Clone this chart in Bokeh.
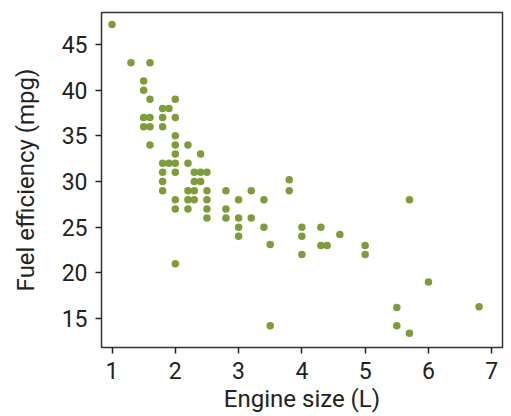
from bokeh.plotting import figure
from bokeh.models import Range1d, SingleIntervalTicker
from bokeh.embed import file_html
from bokeh.resources import INLINE

engine = [1.0, 1.3, 1.6, 1.5, 1.5, 1.6, 2.0, 1.8, 1.9, 1.5, 1.6, 1.8, 2.0, 1.5, 1.6, 1.8,
          2.0, 1.6, 2.0, 2.2, 2.0, 2.4, 1.8, 1.9, 2.0, 2.2, 1.8, 2.0, 2.3, 2.4, 2.5, 2.3,
          2.4, 1.8, 1.8, 2.2, 2.3, 2.5, 2.8, 3.2, 3.8, 3.8, 2.0, 2.2, 2.3, 2.5, 3.0, 3.4,
          2.0, 2.2, 2.5, 2.8, 2.5, 2.8, 3.0, 3.2, 3.0, 3.4, 3.0, 3.5, 2.0, 5.7, 4.0, 4.3,
          4.0, 4.6, 4.3, 4.4, 5.0, 4.0, 5.0, 6.0, 5.5, 6.8, 3.5, 5.5, 5.7]
mpg = [47.2, 43, 43, 41, 40, 39, 39, 38, 38, 37, 37, 37, 37, 36, 36, 36,
       35, 34, 34, 34, 33, 33, 32, 32, 32, 32, 31, 31, 31, 31, 31, 30,
       30, 30, 29, 29, 29, 29, 29, 29, 30.2, 29, 28, 28, 28, 28, 28, 28,
       27, 27, 27, 27, 26, 26, 26, 26, 25, 25, 24, 23.1, 21, 28, 25, 25,
       24, 24.2, 23, 23, 23, 22, 22, 19, 16.2, 16.3, 14.2, 14.2, 13.4]

FONT = "Roboto"

p = figure(width=511, height=416, output_backend="svg", toolbar_location=None,
           x_range=Range1d(0.834, 7.17), y_range=Range1d(11.83, 48.5),
           min_border_left=101, min_border_right=9, min_border_top=12, min_border_bottom=69)
p.scatter(engine, mpg, size=7.5, fill_color="#7f9c3b", line_color=None)

p.grid.visible = False
p.outline_line_color = "#333333"
p.outline_line_width = 1.5
p.outline_line_alpha = 1

p.xaxis.ticker = SingleIntervalTicker(interval=1)
p.yaxis.ticker = SingleIntervalTicker(interval=5)
for ax in (p.xaxis[0], p.yaxis[0]):
    ax.axis_line_color = None
    ax.major_tick_out = 6
    ax.major_tick_in = 0
    ax.major_tick_line_width = 1.5
    ax.major_tick_line_color = "#222222"
    ax.minor_tick_line_color = None
    ax.major_label_text_font = FONT
    ax.major_label_text_font_size = "23px"
    ax.major_label_text_color = "#222222"
    ax.axis_label_text_font = FONT
    ax.axis_label_text_font_size = "24px"
    ax.axis_label_text_font_style = "normal"
    ax.axis_label_text_color = "#222222"
p.xaxis.axis_label = "Engine size (L)"
p.yaxis.axis_label = "Fuel efficiency (mpg)"
p.xaxis.major_label_standoff = 8
p.xaxis.axis_label_standoff = 3
p.yaxis.major_label_standoff = 8
p.yaxis.axis_label_standoff = 19
p.yaxis.major_label_orientation = "horizontal"

open("out.html", "w").write(file_html(p, INLINE))
